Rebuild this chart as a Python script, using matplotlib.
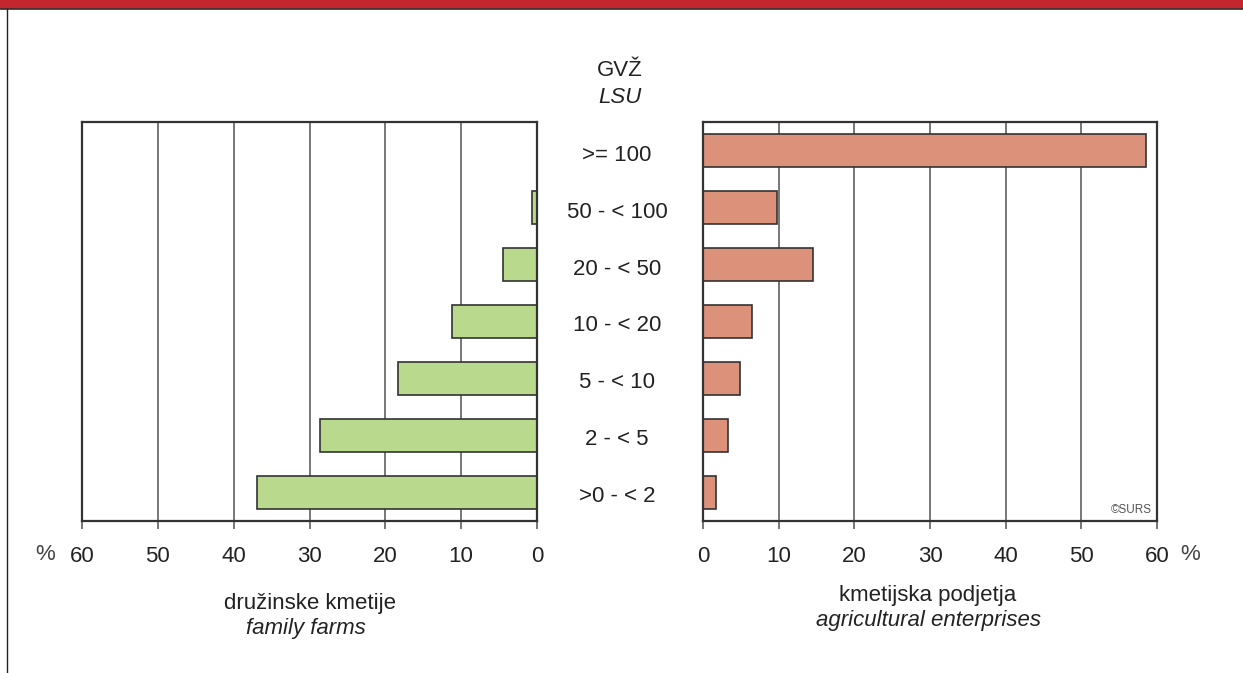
import matplotlib
matplotlib.use("Agg")
import matplotlib.pyplot as plt
from matplotlib.lines import Line2D
from matplotlib.patches import Rectangle

categories = [">= 100", "50 - < 100", "20 - < 50", "10 - < 20", "5 - < 10", "2 - < 5", ">0 - < 2"]
family_farms = [0.0, 0.6, 4.5, 11.2, 18.3, 28.6, 36.9]
enterprises = [58.6, 9.8, 14.6, 6.5, 4.9, 3.3, 1.7]
ticks = [0, 10, 20, 30, 40, 50, 60]

plt.rcParams['font.family'] = ['Liberation Sans', 'DejaVu Sans']

W, H = 1243, 673
fig = plt.figure(figsize=(W / 100, H / 100), dpi=100)

def ax_rect(x0, y0, x1, y1):
    return [x0 / W, 1 - y1 / H, (x1 - x0) / W, (y1 - y0) / H]

green = "#b9d98c"
salmon = "#db917a"
edge = "#333333"
gridc = "#777777"
txt = "#222222"
FS = 16

axL = fig.add_axes(ax_rect(82, 122, 537, 521))
axR = fig.add_axes(ax_rect(703, 122, 1157, 521))

ypos = list(range(len(categories)))
axL.barh(ypos, family_farms, height=0.57, color=green, edgecolor=edge, linewidth=1.2, zorder=3)
axR.barh(ypos, enterprises, height=0.57, color=salmon, edgecolor=edge, linewidth=1.2, zorder=3)

for ax in (axL, axR):
    ax.set_ylim(6.5, -0.5)
    ax.set_xticks(ticks)
    ax.set_yticks([])
    ax.xaxis.grid(True, color=gridc, linewidth=1.4, zorder=0)
    ax.tick_params(axis='x', length=6, width=1.4, color=gridc, labelsize=FS,
                   labelcolor=txt, pad=12)
    for s in ax.spines.values():
        s.set_color(edge)
        s.set_linewidth(1.6)
        s.set_zorder(4)

axL.set_xlim(60, 0)
axR.set_xlim(0, 60)

def ftext(x, y, s, **kw):
    fig.text(x / W, 1 - y / H, s, ha='center', va='center_baseline', color=txt, fontsize=FS, **kw)

# center labels
ftext(620, 68, "GVŽ")
ftext(620, 95, "LSU", style='italic')
for i, c in enumerate(categories):
    ftext(617, 153 + i * 56.8, c)

fig.text(45 / W, 1 - 552 / H, "%", ha='center', va='center_baseline', fontsize=FS, color="#444444")
fig.text(1190 / W, 1 - 552 / H, "%", ha='center', va='center_baseline', fontsize=FS, color="#444444")

ftext(310, 601, "družinske kmetije")
ftext(306, 626, "family farms", style='italic')
ftext(928, 593, "kmetijska podjetja")
ftext(928, 618, "agricultural enterprises", style='italic')

axR.text(0.988, 0.012, "©SURS", transform=axR.transAxes, ha='right', va='bottom', fontsize=8.5, color="#555555", zorder=5)

# frame decorations
fig.patches.append(Rectangle((0, 1 - 8 / H), 1, 8 / H, transform=fig.transFigure, color="#c4262e", zorder=0))
fig.lines.append(Line2D([0, 1], [1 - 8.5 / H, 1 - 8.5 / H], transform=fig.transFigure, color="#333333", linewidth=1.2))
fig.lines.append(Line2D([7 / W, 7 / W], [0, 1 - 9 / H], transform=fig.transFigure, color="#222222", linewidth=1.0))

fig.savefig("out.png", dpi=100)
